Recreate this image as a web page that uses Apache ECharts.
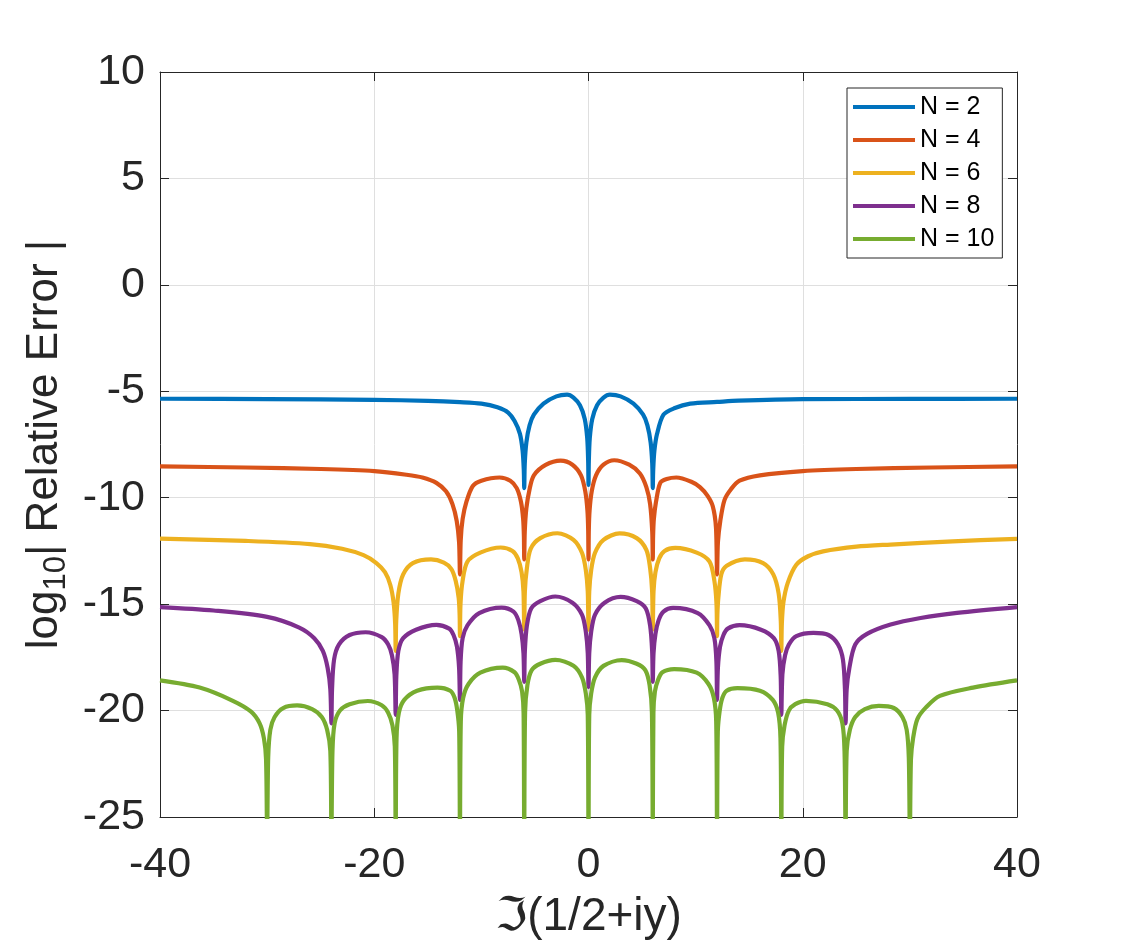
<!DOCTYPE html>
<html>
<head>
<meta charset="utf-8">
<script src="https://cdn.jsdelivr.net/npm/echarts@6/dist/echarts.min.js"></script>
<style>
  html, body { margin: 0; padding: 0; background: #fff; }
  #chart { width: 1125px; height: 945px; }
</style>
</head>
<body>
<div id="chart"></div>
<script>
// relative error curves as [y, log10|err|] pairs
var seriesNames = ['N = 2', 'N = 4', 'N = 6', 'N = 8', 'N = 10'];
var seriesColors = ['#0072BD', '#D95319', '#EDB120', '#7E2F8E', '#77AC30'];
var xTicks = [-40, -20, 0, 20, 40];
var yTicks = [-25, -20, -15, -10, -5, 0, 5, 10];

var errN2 = [
  [-40,-5.35],[-30,-5.37],[-20,-5.40],[-15,-5.45],[-12,-5.51],[-10,-5.58],[-8.5,-5.75],[-7.5,-6.0],[-6.9,-6.4],[-6.4,-7.0],[-6.15,-7.8],[-6.04,-8.7],[-6,-9.55],
  [-5.95,-8.4],[-5.8,-7.4],[-5.5,-6.6],[-5.1,-6.1],[-4.2,-5.58],[-3.0,-5.24],[-2.0,-5.16],[-1.4,-5.3],[-0.8,-5.66],[-0.35,-6.3],[-0.12,-7.2],[-0.03,-8.3],[0,-9.4],
  [0.03,-8.3],[0.12,-7.2],[0.35,-6.3],[0.8,-5.66],[1.4,-5.3],[2.0,-5.16],[3.0,-5.24],[4.2,-5.58],[5.1,-6.1],[5.5,-6.6],[5.8,-7.4],[5.95,-8.4],[6,-9.55],
  [6.04,-8.7],[6.15,-7.8],[6.4,-7.0],[7.0,-6.1],[8.0,-5.8],[9.5,-5.58],[12,-5.5],[14,-5.44],[20,-5.37],[30,-5.36],[40,-5.35]
];
var errN4 = [
  [-40,-8.53],[-32,-8.58],[-25,-8.65],[-20,-8.75],[-17,-8.92],[-15.5,-9.05],[-14.2,-9.3],[-13.3,-9.7],[-12.7,-10.3],[-12.3,-11.1],[-12.08,-12.1],[-12,-13.6],
  [-11.93,-12.0],[-11.75,-11.0],[-11.4,-10.2],[-10.8,-9.45],[-10,-9.2],[-8.3,-9.05],[-7.3,-9.2],[-6.7,-9.55],[-6.3,-10.2],[-6.1,-11.0],[-6.03,-11.8],[-6,-12.9],
  [-5.95,-11.6],[-5.8,-10.5],[-5.5,-9.6],[-5.1,-8.95],[-4.0,-8.46],[-2.6,-8.26],[-1.5,-8.45],[-0.7,-8.95],[-0.3,-9.7],[-0.1,-10.6],[-0.03,-11.5],[0,-12.9],
  [0.03,-11.5],[0.1,-10.6],[0.3,-9.7],[0.7,-8.95],[1.4,-8.45],[2.4,-8.24],[3.8,-8.45],[4.8,-8.86],[5.4,-9.5],[5.75,-10.3],[5.95,-11.6],[6,-12.9],
  [6.03,-11.8],[6.1,-11.0],[6.3,-10.2],[6.7,-9.3],[7.3,-9.12],[8.2,-9.05],[9.6,-9.25],[10.4,-9.5],[11.1,-9.9],[11.6,-10.4],[11.9,-11.4],[12,-13.6],
  [12.08,-12.1],[12.3,-11.1],[12.7,-10.1],[13.3,-9.6],[14.1,-9.2],[16,-8.95],[20,-8.75],[25,-8.65],[32,-8.58],[40,-8.53]
];
var errN6 = [
  [-40,-11.92],[-32,-12.03],[-26,-12.18],[-23,-12.4],[-21,-12.7],[-19.8,-13.07],[-19,-13.5],[-18.5,-14.1],[-18.2,-14.9],[-18.05,-15.9],[-18,-17.2],
  [-17.95,-15.8],[-17.75,-14.5],[-17.3,-13.6],[-16.4,-13.07],[-14.7,-12.9],[-13.5,-13.05],[-12.8,-13.35],[-12.4,-13.9],[-12.12,-14.7],[-12.03,-15.5],[-12,-16.5],
  [-11.95,-15.0],[-11.75,-13.9],[-11.3,-13.0],[-10.1,-12.58],[-8.2,-12.34],[-7.1,-12.5],[-6.6,-12.85],[-6.25,-13.5],[-6.07,-14.4],[-6,-16.2],
  [-5.94,-14.4],[-5.75,-13.3],[-5.4,-12.4],[-4.5,-11.9],[-2.9,-11.67],[-1.4,-11.98],[-0.6,-12.6],[-0.25,-13.4],[-0.07,-14.4],[0,-16.2],
  [0.07,-14.4],[0.25,-13.4],[0.6,-12.6],[1.4,-11.98],[2.9,-11.68],[4.5,-11.9],[5.4,-12.45],[5.75,-13.3],[5.94,-14.4],[6,-16.2],
  [6.07,-14.4],[6.25,-13.5],[6.6,-12.85],[7.1,-12.5],[8.1,-12.36],[10.1,-12.58],[11.3,-13.0],[11.75,-13.9],[11.95,-15.0],[12,-16.5],
  [12.03,-15.5],[12.12,-14.7],[12.4,-13.6],[12.9,-13.2],[14.6,-12.9],[16.3,-13.07],[17.25,-13.6],[17.75,-14.5],[17.95,-15.8],[18,-17.2],
  [18.05,-15.9],[18.2,-14.9],[18.6,-14.0],[19.4,-13.15],[20.5,-12.75],[21.9,-12.52],[25,-12.3],[28.2,-12.2],[34,-12.05],[40,-11.93]
];
var errN8 = [
  [-40,-15.14],[-35,-15.3],[-30,-15.6],[-27,-16.1],[-25.6,-16.6],[-24.8,-17.2],[-24.35,-18.0],[-24.1,-19.0],[-24,-20.6],
  [-23.94,-19.0],[-23.75,-17.6],[-23.3,-16.9],[-22.3,-16.45],[-20.8,-16.32],[-19.3,-16.55],[-18.7,-16.9],[-18.35,-17.4],[-18.1,-18.3],[-18,-20.2],
  [-17.94,-18.4],[-17.75,-17.2],[-17.3,-16.6],[-16.1,-16.2],[-14.2,-15.97],[-13.0,-16.15],[-12.6,-16.45],[-12.28,-17.0],[-12.08,-18.0],[-12,-19.5],
  [-11.94,-17.7],[-11.75,-16.6],[-11.3,-16.0],[-10.2,-15.42],[-8.1,-15.16],[-7.0,-15.35],[-6.55,-15.75],[-6.25,-16.4],[-6.07,-17.3],[-6,-18.65],
  [-5.94,-17.2],[-5.75,-16.0],[-5.35,-15.2],[-4.5,-14.86],[-3.1,-14.64],[-1.5,-14.93],[-0.6,-15.5],[-0.25,-16.3],[-0.07,-17.3],[0,-18.9],
  [0.07,-17.3],[0.25,-16.3],[0.6,-15.5],[1.5,-14.93],[3.0,-14.66],[4.5,-14.86],[5.35,-15.2],[5.75,-16.0],[5.94,-17.2],[6,-18.65],
  [6.07,-17.3],[6.25,-16.4],[6.55,-15.75],[7.0,-15.35],[7.9,-15.18],[10.2,-15.42],[11.3,-16.0],[11.75,-16.6],[11.94,-17.7],[12,-19.5],
  [12.08,-18.0],[12.28,-17.0],[12.6,-16.45],[13.0,-16.15],[14.1,-15.99],[16.1,-16.2],[17.3,-16.6],[17.75,-17.2],[17.94,-18.4],[18,-20.2],
  [18.1,-18.3],[18.35,-17.4],[18.7,-16.9],[19.4,-16.5],[21.0,-16.35],[22.4,-16.45],[23.3,-16.9],[23.75,-17.6],[23.94,-19.0],[24,-20.6],
  [24.1,-19.0],[24.35,-18.0],[24.9,-16.9],[26,-16.4],[28.2,-15.96],[31,-15.65],[34.4,-15.41],[40,-15.14]
];
var errN10 = [
  [-40,-18.58],[-36.3,-18.92],[-33.2,-19.54],[-31.5,-20.05],[-30.7,-20.6],[-30.3,-21.3],[-30.1,-22.3],[-30,-26],
  [-29.9,-22.2],[-29.7,-20.9],[-29.3,-20.3],[-28.5,-19.88],[-27.2,-19.76],[-25.8,-19.93],[-24.9,-20.3],[-24.4,-20.9],[-24.1,-21.9],[-24,-26],
  [-23.9,-21.9],[-23.7,-20.6],[-23.2,-20.0],[-22.3,-19.7],[-20.6,-19.55],[-19.3,-19.75],[-18.7,-20.1],[-18.3,-20.7],[-18.08,-21.7],[-18,-26],
  [-17.92,-21.3],[-17.7,-20.1],[-17.2,-19.5],[-16.0,-19.07],[-14.1,-18.92],[-12.9,-19.07],[-12.5,-19.4],[-12.25,-20.0],[-12.07,-21.0],[-12,-26],
  [-11.92,-20.5],[-11.7,-19.4],[-11.2,-18.75],[-10.1,-18.22],[-8.0,-17.98],[-6.9,-18.2],[-6.5,-18.55],[-6.2,-19.1],[-6.06,-20.1],[-6,-26],
  [-5.92,-20.1],[-5.7,-18.8],[-5.3,-18.1],[-4.5,-17.8],[-3.1,-17.62],[-1.4,-17.9],[-0.6,-18.45],[-0.25,-19.2],[-0.07,-20.2],[0,-26],
  [0.07,-20.2],[0.25,-19.2],[0.6,-18.45],[1.4,-17.9],[3.1,-17.63],[4.5,-17.8],[5.3,-18.1],[5.7,-18.8],[5.92,-20.1],[6,-26],
  [6.06,-20.1],[6.2,-19.1],[6.5,-18.55],[6.9,-18.2],[8.0,-18.05],[10.1,-18.22],[11.2,-18.75],[11.7,-19.4],[11.92,-20.5],[12,-26],
  [12.07,-21.0],[12.25,-20.0],[12.5,-19.4],[12.9,-19.07],[13.9,-18.95],[16.0,-19.07],[17.2,-19.5],[17.7,-20.1],[17.92,-21.3],[18,-26],
  [18.08,-21.7],[18.3,-20.7],[18.7,-20.0],[19.3,-19.7],[20.3,-19.54],[22.3,-19.7],[23.2,-20.0],[23.7,-20.6],[23.9,-21.9],[24,-26],
  [24.1,-21.9],[24.4,-20.9],[24.9,-20.3],[25.8,-19.93],[27.1,-19.78],[28.5,-19.88],[29.3,-20.3],[29.7,-20.9],[29.9,-22.2],[30,-26],
  [30.1,-22.3],[30.3,-21.3],[30.7,-20.4],[31.5,-19.85],[32.8,-19.31],[35.9,-18.92],[40,-18.58]
];
var seriesData = [errN2, errN4, errN6, errN8, errN10];

var FONT = '"Liberation Sans", Arial, "DejaVu Sans", sans-serif';
var axisCol = '#262626';

var chart = echarts.init(document.getElementById('chart'));

var series = [];
for (var i = 0; i < seriesData.length; i++) {
  series.push({
    name: seriesNames[i],
    type: 'line',
    data: seriesData[i],
    symbol: 'none',
    smooth: 0.3,
    clip: true,
    animation: false,
    lineStyle: {color: seriesColors[i], width: 4.2, join: 'round'},
    itemStyle: {color: seriesColors[i]}
  });
}

var option = {
  backgroundColor: '#fff',
  animation: false,
  grid: {left: 160, right: 108, top: 72, bottom: 119},
  legend: {
    orient: 'vertical',
    left: 847,
    top: 88,
    padding: [6, 8, 6, 6],
    icon: 'rect',
    itemWidth: 62,
    itemHeight: 4,
    itemGap: 7,
    borderColor: '#262626',
    borderWidth: 1,
    backgroundColor: '#fff',
    textStyle: {fontSize: 25, color: '#000', fontFamily: FONT, lineHeight: 26},
    data: seriesNames
  },
  xAxis: [
    {
      type: 'value', min: -40, max: 40, interval: 20,
      name: 'ℑ(1/2+iy)', nameLocation: 'middle', nameGap: 77,
      nameTextStyle: {fontSize: 46, color: axisCol, fontFamily: FONT},
      axisLine: {onZero: false, lineStyle: {color: axisCol, width: 1}},
      axisTick: {inside: true, length: 9, lineStyle: {color: axisCol}},
      axisLabel: {fontSize: 43, color: axisCol, fontFamily: FONT, margin: 27},
      splitLine: {show: true, lineStyle: {color: '#dfdfdf', width: 1}}
    },
    {
      type: 'value', min: -40, max: 40, interval: 20, position: 'top',
      axisLine: {onZero: false, lineStyle: {color: axisCol, width: 1}},
      axisTick: {inside: true, length: 9, lineStyle: {color: axisCol}},
      axisLabel: {show: false},
      splitLine: {show: false}
    }
  ],
  yAxis: [
    {
      type: 'value', min: -25, max: 10, interval: 5,
      name: '{a|log}{s|10}{a|| Relative Error |}',
      nameLocation: 'middle', nameGap: 87, nameRotate: 90,
      nameTextStyle: {
        color: axisCol, fontFamily: FONT,
        rich: {
          a: {fontSize: 44, fontFamily: FONT, color: axisCol, lineHeight: 54},
          s: {fontSize: 31, fontFamily: FONT, color: axisCol, lineHeight: 25, verticalAlign: 'bottom'}
        }
      },
      axisLine: {onZero: false, lineStyle: {color: axisCol, width: 1}},
      axisTick: {inside: true, length: 9, lineStyle: {color: axisCol}},
      axisLabel: {fontSize: 43, color: axisCol, fontFamily: FONT, margin: 15},
      splitLine: {show: true, lineStyle: {color: '#dfdfdf', width: 1}}
    },
    {
      type: 'value', min: -25, max: 10, interval: 5, position: 'right',
      axisLine: {onZero: false, lineStyle: {color: axisCol, width: 1}},
      axisTick: {inside: true, length: 9, lineStyle: {color: axisCol}},
      axisLabel: {show: false},
      splitLine: {show: false}
    }
  ],
  series: series
};

chart.setOption(option);
</script>
</body>
</html>
